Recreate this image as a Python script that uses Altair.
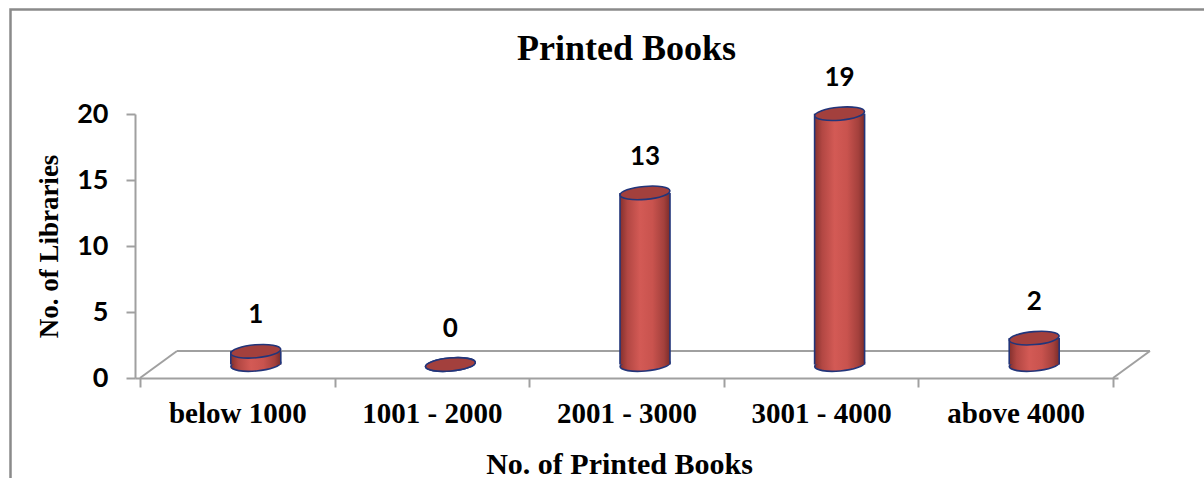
import altair as alt
import pandas as pd

# ---- data ----
categories = ["below 1000", "1001 - 2000", "2001 - 3000", "3001 - 4000", "above 4000"]
libraries = [1, 0, 13, 19, 2]
y_ticks = [0, 5, 10, 15, 20]

n = len(categories)
df = pd.DataFrame({
    "category": categories,
    "libraries": libraries,
    "pos": [i + 0.5 for i in range(n)],
    "base": [0] * n,
})
floor = pd.DataFrame({"x0": [0], "x1": [n], "y0": [0]})

# ---- styling ----
GRAY = "#a0a0a0"
NAVY = "#22357a"
DX, DY = 37, -27          # depth of the 3D floor (pixels)
CX, CY = DX / 2, DY / 2   # cylinders stand mid-depth
W = 50                    # cylinder diameter (pixels)
ELLIPSE = ("M -1 0 C -1 -0.144 -0.552 -0.26 0 -0.26 C 0.552 -0.26 1 -0.144 1 0 "
           "C 1 0.144 0.552 0.26 0 0.26 C -0.552 0.26 -1 0.144 -1 0 Z")
body_grad = alt.Gradient(
    gradient="linear", x1=0, x2=1, y1=0, y2=0,
    stops=[
        alt.GradientStop(offset=0, color="#84302d"),
        alt.GradientStop(offset=0.15, color="#b24743"),
        alt.GradientStop(offset=0.4, color="#d35a55"),
        alt.GradientStop(offset=0.65, color="#c9534e"),
        alt.GradientStop(offset=0.88, color="#a3403c"),
        alt.GradientStop(offset=1, color="#7a2c2a"),
    ],
)
SERIF = "Liberation Serif"
SANS = "Lato"

xscale = alt.Scale(domain=[0, n], nice=False, zero=False)
yscale = alt.Scale(domain=[0, 20], nice=False)

label_array = "[" + ",".join("'" + c + "'" for c in categories) + "]"

x_axis = alt.Axis(
    values=[i * 0.5 for i in range(2 * n + 1)],
    labelExpr=f"datum.value % 1 === 0 ? '' : {label_array}[floor(datum.value)]",
    tickOpacity={"condition": {"test": "datum.value % 1 === 0", "value": 1}, "value": 0},
    labelOverlap=False, labelFlush=False, labelBound=False,
    labelFont=SERIF, labelFontWeight="bold", labelFontSize=29, labelColor="black",
    labelPadding=12, tickSize=9, tickColor=GRAY, tickWidth=2,
    domainColor=GRAY, domainWidth=2, grid=False,
    title="No. of Printed Books", titleFont=SERIF, titleFontWeight="bold",
    titleFontSize=30, titleColor="black", titleBaseline="alphabetic", titleY=95,
    titleX=484, titleAlign="center",
)
y_axis = alt.Axis(
    values=y_ticks, grid=False,
    labelFont=SANS, labelFontWeight="bold", labelFontSize=27, labelColor="black",
    labelPadding=18, tickSize=9, tickColor=GRAY, tickWidth=2,
    domainColor=GRAY, domainWidth=2,
    title="No. of Libraries", titleFont=SERIF, titleFontWeight="bold",
    titleFontSize=27, titleColor="black", titleAngle=270, titleX=-78, titleY=132,
    titleBaseline="alphabetic", titleAlign="center",
)

# ---- frame around the chart ----
frame = alt.Chart(alt.Data(values=[{}])).mark_rect(
    fillOpacity=0, stroke="#8a8a8a", strokeWidth=2.5
).encode(x=alt.value(-124.5), x2=alt.value(1300), y=alt.value(-104.5), y2=alt.value(600))

# ---- 3D floor ----
fb = alt.Chart(floor)
back_line = fb.mark_rule(color=GRAY, strokeWidth=2, xOffset=DX, x2Offset=DX, yOffset=DY).encode(
    x=alt.X("x0:Q", scale=xscale, axis=x_axis), x2="x1:Q",
    y=alt.Y("y0:Q", scale=yscale, axis=y_axis),
)
left_diag = fb.mark_rule(color=GRAY, strokeWidth=2, x2Offset=DX, y2Offset=DY).encode(
    x=alt.X("x0:Q", scale=xscale), x2="x0:Q", y=alt.Y("y0:Q", scale=yscale), y2="y0:Q"
)
right_diag = fb.mark_rule(color=GRAY, strokeWidth=2, x2Offset=DX, y2Offset=DY).encode(
    x=alt.X("x1:Q", scale=xscale), x2="x1:Q", y=alt.Y("y0:Q", scale=yscale), y2="y0:Q"
)

# ---- cylinders ----
base = alt.Chart(df)
bottom = base.mark_point(
    shape=ELLIPSE, size=W * W, angle=355, filled=True, fill=body_grad, stroke=NAVY,
    strokeWidth=1.6, opacity=1, fillOpacity=1, strokeOpacity=1, xOffset=CX, yOffset=CY,
).encode(x=alt.X("pos:Q", scale=xscale), y=alt.Y("base:Q", scale=yscale))

body = base.mark_bar(
    width=W, color=body_grad, strokeWidth=0, xOffset=CX, yOffset=CY, y2Offset=CY
).encode(x=alt.X("pos:Q", scale=xscale), y=alt.Y("libraries:Q", scale=yscale), y2="base:Q")

side_l = base.mark_rule(color=NAVY, strokeWidth=1.6, xOffset=CX - W / 2, yOffset=CY, y2Offset=CY).encode(
    x=alt.X("pos:Q", scale=xscale), y=alt.Y("libraries:Q", scale=yscale), y2="base:Q"
)
side_r = base.mark_rule(color=NAVY, strokeWidth=1.6, xOffset=CX + W / 2, yOffset=CY, y2Offset=CY).encode(
    x=alt.X("pos:Q", scale=xscale), y=alt.Y("libraries:Q", scale=yscale), y2="base:Q"
)

top = base.mark_point(
    shape=ELLIPSE, size=W * W, angle=355, filled=True, fill="#a3403d", stroke=NAVY,
    strokeWidth=1.6, opacity=1, fillOpacity=1, strokeOpacity=1, xOffset=CX, yOffset=CY,
).encode(x=alt.X("pos:Q", scale=xscale), y=alt.Y("libraries:Q", scale=yscale))

labels = base.mark_text(
    font=SANS, fontWeight="bold", fontSize=26, color="black", baseline="alphabetic",
    align="center", dx=CX, dy=CY - 28,
).encode(x=alt.X("pos:Q", scale=xscale), y=alt.Y("libraries:Q", scale=yscale), text="libraries:Q")

chart = alt.layer(
    frame, back_line, left_diag, right_diag, bottom, body, side_l, side_r, top, labels
).properties(
    width=983, height=264,
    title=alt.TitleParams(
        "Printed Books", font=SERIF, fontWeight="bold", fontSize=36, color="black",
        anchor="middle", baseline="alphabetic", offset=-88,
    ),
    autosize=alt.AutoSizeParams(type="none"),
    padding={"left": 135, "top": 114, "right": 86, "bottom": 100},
    background="white",
).configure_view(strokeWidth=0, stroke="transparent")

chart.save("out.html", embed_options={"renderer": "svg", "actions": False})
